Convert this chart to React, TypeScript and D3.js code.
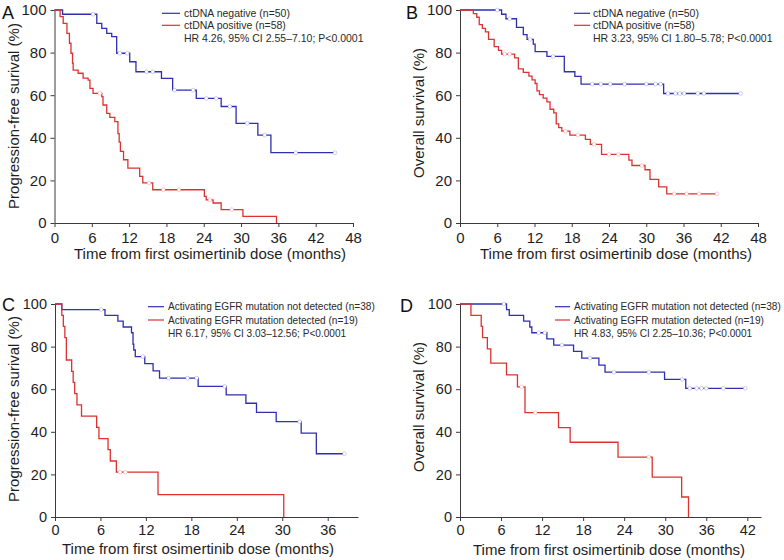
import React, { useEffect, useRef } from 'react';
import * as d3 from 'd3';

const BLUE = '#2f2fb0';
const RED = '#dc3232';
const FONT = '"Liberation Sans", Arial, Helvetica, sans-serif';

// ---------- Panel A: PFS by ctDNA ----------
const pfsNegT = [1.3, 6.8, 7.6, 8.4, 9.2, 10.0, 12.1, 13.1, 17.2, 19.0, 22.8, 26.8, 29.2, 32.7, 34.8];
const pfsNegS = [98, 93.7, 91.4, 89, 87.5, 79.7, 75.7, 71, 67.9, 62.4, 58.5, 54.7, 46.8, 41.3, 33];
const pfsNegCensor = [6.2, 10.5, 11.7, 14.8, 15.8, 19.3, 22.3, 24.4, 26.0, 28.2, 31.0, 33.8, 38.8, 45.1];
const pfsNegEnd = 45.1;

const pfsPosT = [0.9, 1.4, 2.0, 2.4, 2.65, 2.9, 3.0, 3.8, 4.6, 5.4, 5.7, 6.2, 7.6, 7.8, 8.4, 8.9, 9.7, 10.2, 10.4, 10.6, 11.1, 11.8, 13.7, 14.2, 15.8, 24.1, 24.4, 25.5, 26.8, 30.3, 35.7];
const pfsPosS = [96.9, 93.7, 89, 84.4, 79.7, 75, 71.8, 70.3, 68, 67.1, 63.2, 60.9, 59.3, 55.4, 51.5, 49.6, 47.6, 42, 38, 33.6, 29.7, 25.8, 21.9, 18.8, 15.6, 12.5, 10.9, 9.4, 6.3, 3.1, 0];
const pfsPosCensor = [7.3, 15.2, 17.5, 20.0, 25.0, 28.5];
const pfsPosEnd = 35.7;

// ---------- Panel B: OS by ctDNA ----------
const osNegT = [6.7, 7.4, 9.1, 10.2, 10.8, 11.8, 12.1, 14.0, 16.8, 18.5, 19.5, 32.8];
const osNegS = [98, 95.9, 91.8, 88.4, 86.2, 84, 80.5, 78.2, 71, 68.8, 65.2, 60.8];
const osNegCensor = [6.0, 8.0, 11.3, 15.0, 21.3, 22.7, 24.2, 26.5, 30.0, 31.5, 32.3, 33.5, 34.7, 35.4, 36.1, 38.3, 39.3, 45.2];
const osNegEnd = 45.2;

const osPosT = [2.15, 2.7, 3.1, 3.6, 4.1, 4.6, 5.5, 6.2, 6.7, 8.8, 9.4, 10.2, 11.1, 11.6, 12.1, 12.4, 12.8, 13.4, 14.0, 14.5, 15.1, 15.5, 15.9, 16.4, 17.7, 20.2, 21.0, 22.8, 27.2, 27.7, 29.8, 30.6, 32.0, 33.3];
const osPosS = [98.3, 96.6, 93.1, 91.4, 89.7, 86.2, 82.8, 81.0, 79.3, 77.5, 72.4, 70.7, 69.0, 67.2, 65.5, 62.0, 60.3, 58.6, 56.9, 53.4, 51.7, 46.5, 44.8, 43.1, 41.3, 39.3, 36.9, 32.2, 29.5, 27.0, 25.0, 20.5, 17.0, 13.7];
const osPosCensor = [7.2, 8.0, 17.0, 19.0, 21.6, 24.0, 25.5, 29.3, 34.5, 36.5, 38.5, 41.4];
const osPosEnd = 41.4;

// ---------- Panel C: PFS by EGFR mutation ----------
const pfsNotDetT = [0.9, 6.6, 8.3, 9.0, 10.1, 10.3, 10.4, 10.6, 11.85, 12.95, 13.8, 18.9, 22.6, 25.2, 26.6, 29.2, 32.5, 34.5];
const pfsNotDetS = [97.4, 94.7, 92.0, 89.2, 86.5, 81.1, 78.4, 75.3, 72.0, 68.6, 65.2, 61.3, 57.3, 53.4, 49.1, 44.8, 39.4, 29.7];
const pfsNotDetCensor = [6.1, 11.6, 15.0, 17.5, 18.7, 22.4, 32.3, 38.2];
const pfsNotDetEnd = 38.2;

const pfsDetT = [0.9, 1.1, 1.3, 1.5, 2.2, 2.4, 2.6, 2.9, 3.5, 5.5, 5.8, 7.0, 7.3, 8.1, 13.6, 30.2];
const pfsDetS = [94.7, 89.5, 84.2, 73.7, 68.4, 63.2, 57.9, 52.6, 47.4, 42.1, 36.8, 31.6, 26.3, 21.05, 10.5, 0];
const pfsDetCensor = [8.6, 9.3];
const pfsDetEnd = 30.2;

// ---------- Panel D: OS by EGFR mutation ----------
const osNotDetT = [6.8, 7.2, 9.3, 10.2, 10.5, 12.7, 13.7, 16.6, 17.8, 20.3, 21.2, 29.9, 33.0];
const osNotDetS = [97.4, 94.7, 92.0, 89.2, 86.5, 83.6, 80.7, 77.8, 74.6, 71.3, 68.0, 64.6, 60.4];
const osNotDetCensor = [6.4, 11.5, 12.4, 14.9, 19.0, 22.5, 27.6, 32.5, 33.6, 34.6, 35.3, 36.0, 38.5, 41.7];
const osNotDetEnd = 41.7;

const osDetT = [1.6, 3.1, 3.3, 4.0, 4.5, 6.8, 8.4, 9.5, 14.4, 16.1, 23.1, 28.1, 32.4, 33.4];
const osDetS = [94.7, 89.5, 84.2, 78.9, 72.2, 66.7, 61.1, 49.0, 42.0, 35.1, 28.1, 18.7, 9.4, 0];
const osDetCensor = [9.0, 11.0, 27.6];
const osDetEnd = 33.4;

// ---------- Tick labels & text ----------
const yTicks = [0, 20, 40, 60, 80, 100];
const xTicks48 = [0, 6, 12, 18, 24, 30, 36, 42, 48];
const xTicks36 = [0, 6, 12, 18, 24, 30, 36];
const xTicks42 = [0, 6, 12, 18, 24, 30, 36, 42];
const xTitle = 'Time from first osimertinib dose (months)';
const legendCt = ['ctDNA negative (n=50)', 'ctDNA positive (n=58)'];
const legendEgfr = ['Activating EGFR mutation not detected (n=38)', 'Activating EGFR mutation detected (n=19)'];
const hrTexts = [
  'HR 4.26, 95% CI 2.55–7.10; P<0.0001',
  'HR 3.23, 95% CI 1.80–5.78; P<0.0001',
  'HR 6.17, 95% CI 3.03–12.56; P<0.0001',
  'HR 4.83, 95% CI 2.25–10.36; P<0.0001',
];

type Curve = { T: number[]; S: number[]; censor: number[]; end: number; color: string };

type Cfg = {
  letter: string; lx: number; ly: number;
  x0: number; x1: number; xMax: number; xTicks: number[];
  yTop: number; yBot: number; tickPad: number; tickFont: number;
  yTitle: string; ytx: number; yty: number;
  xtx: number; xty: number;
  legX0: number; legX1: number; legTx: number; legY: number[]; legFont: number;
  legend: string[]; hr: string;
  curves: Curve[];
};

const panels: Cfg[] = [
  {
    letter: 'A', lx: 2, ly: 19,
    x0: 54.5, x1: 353, xMax: 48, xTicks: xTicks48, yTop: 10, yBot: 223, tickPad: 5, tickFont: 15,
    yTitle: 'Progression-free surival (%)', ytx: 14, yty: 116, xtx: 210, xty: 259,
    legX0: 162, legX1: 180, legTx: 184, legY: [13.3, 25.3, 38.3], legFont: 10.5,
    legend: legendCt, hr: hrTexts[0],
    curves: [
      { T: pfsNegT, S: pfsNegS, censor: pfsNegCensor, end: pfsNegEnd, color: BLUE },
      { T: pfsPosT, S: pfsPosS, censor: pfsPosCensor, end: pfsPosEnd, color: RED },
    ],
  },
  {
    letter: 'B', lx: 406, ly: 18.5,
    x0: 460, x1: 758, xMax: 48, xTicks: xTicks48, yTop: 10, yBot: 223, tickPad: 5, tickFont: 15,
    yTitle: 'Overall survival (%)', ytx: 419, yty: 113, xtx: 616, xty: 259,
    legX0: 574, legX1: 590, legTx: 593, legY: [13.3, 25.3, 38.3], legFont: 10.5,
    legend: legendCt, hr: hrTexts[1],
    curves: [
      { T: osNegT, S: osNegS, censor: osNegCensor, end: osNegEnd, color: BLUE },
      { T: osPosT, S: osPosS, censor: osPosCensor, end: osPosEnd, color: RED },
    ],
  },
  {
    letter: 'C', lx: 2, ly: 311,
    x0: 55, x1: 358, xMax: 40, xTicks: xTicks36, yTop: 304, yBot: 517, tickPad: 4, tickFont: 14.5,
    yTitle: 'Progression-free surival (%)', ytx: 14, yty: 409, xtx: 198, xty: 554,
    legX0: 148, legX1: 164, legTx: 168, legY: [306.7, 320, 333.3], legFont: 10.1,
    legend: legendEgfr, hr: hrTexts[2],
    curves: [
      { T: pfsNotDetT, S: pfsNotDetS, censor: pfsNotDetCensor, end: pfsNotDetEnd, color: BLUE },
      { T: pfsDetT, S: pfsDetS, censor: pfsDetCensor, end: pfsDetEnd, color: RED },
    ],
  },
  {
    letter: 'D', lx: 400, ly: 312,
    x0: 460, x1: 761, xMax: 44, xTicks: xTicks42, yTop: 304, yBot: 517, tickPad: 4, tickFont: 14.5,
    yTitle: 'Overall survival (%)', ytx: 419, yty: 407, xtx: 609, xty: 555,
    legX0: 555, legX1: 570, legTx: 574, legY: [306.7, 320, 333.3], legFont: 10.1,
    legend: legendEgfr, hr: hrTexts[3],
    curves: [
      { T: osNotDetT, S: osNotDetS, censor: osNotDetCensor, end: osNotDetEnd, color: BLUE },
      { T: osDetT, S: osDetS, censor: osDetCensor, end: osDetEnd, color: RED },
    ],
  },
];

function survAt(c: Curve, t: number) {
  let s = 100;
  for (let i = 0; i < c.T.length; i++) if (c.T[i] <= t) s = c.S[i];
  return s;
}

function styleAxis(g: any, size: number) {
  g.select('.domain').attr('stroke', '#3a3a3a').attr('stroke-width', 1);
  g.selectAll('.tick line').attr('stroke', '#3a3a3a').attr('stroke-width', 1);
  g.selectAll('.tick text').attr('fill', '#1e1e1e').style('font-size', size + 'px').style('font-family', FONT);
}

function Panel({ cfg }: { cfg: Cfg }) {
  const gx = useRef<SVGGElement>(null);
  const gy = useRef<SVGGElement>(null);
  const x = d3.scaleLinear().domain([0, cfg.xMax]).range([cfg.x0, cfg.x1]);
  const y = d3.scaleLinear().domain([0, 100]).range([cfg.yBot, cfg.yTop]);

  useEffect(() => {
    const ax = d3.select(gx.current);
    ax.call(d3.axisBottom(x).tickValues(cfg.xTicks).tickSize(4).tickPadding(cfg.tickPad).tickSizeOuter(0) as any);
    styleAxis(ax, cfg.tickFont);
    const ay = d3.select(gy.current);
    ay.call(d3.axisLeft(y).tickValues(yTicks).tickSize(4).tickPadding(4).tickSizeOuter(0) as any);
    styleAxis(ay, cfg.tickFont);
  }, []);

  const line = d3.line<[number, number]>()
    .x((d) => x(d[0]))
    .y((d) => y(d[1]))
    .curve(d3.curveStepAfter);

  return (
    <g>
      <text x={cfg.lx} y={cfg.ly} style={{ fontSize: 18, fontFamily: FONT }} fill="#111">{cfg.letter}</text>
      <g ref={gx} transform={`translate(0,${cfg.yBot})`} />
      <g ref={gy} transform={`translate(${cfg.x0},0)`} />
      <text x={cfg.xtx} y={cfg.xty} textAnchor="middle" fill="#1e1e1e" style={{ fontSize: 15, fontFamily: FONT }}>{xTitle}</text>
      <text transform={`translate(${cfg.ytx},${cfg.yty}) rotate(-90)`} textAnchor="middle" dy="0.35em" fill="#1e1e1e" style={{ fontSize: 15, fontFamily: FONT }}>{cfg.yTitle}</text>
      {cfg.curves.map((c, i) => {
        const pts: [number, number][] = [[0, 100]];
        c.T.forEach((t, k) => pts.push([t, c.S[k]]));
        pts.push([c.end, c.S[c.S.length - 1]]);
        return (
          <g key={i}>
            <path d={line(pts) || ''} fill="none" stroke={c.color} strokeWidth={1.3} />
            {c.censor.map((t, k) => (
              <circle key={k} cx={x(t)} cy={y(survAt(c, t))} r={1.9} fill="#ffffff" stroke={c.color} strokeOpacity={0.25} strokeWidth={0.9} />
            ))}
          </g>
        );
      })}
      {cfg.legend.map((t, i) => (
        <g key={i}>
          <line x1={cfg.legX0} x2={cfg.legX1} y1={cfg.legY[i]} y2={cfg.legY[i]} stroke={cfg.curves[i].color} strokeWidth={1.2} />
          <text x={cfg.legTx} y={cfg.legY[i]} dy="0.35em" fill="#2a2a2a" style={{ fontSize: cfg.legFont, fontFamily: FONT }}>{t}</text>
        </g>
      ))}
      <text x={cfg.legTx} y={cfg.legY[2]} dy="0.35em" fill="#2a2a2a" style={{ fontSize: cfg.legFont, fontFamily: FONT }}>{cfg.hr}</text>
    </g>
  );
}

export default function App() {
  return (
    <svg width={784} height={560} style={{ position: 'absolute', left: 0, top: 0, background: '#fff' }}>
      <rect x={0} y={0} width={784} height={560} fill="#fff" />
      {panels.map((p, i) => <Panel key={i} cfg={p} />)}
    </svg>
  );
}
